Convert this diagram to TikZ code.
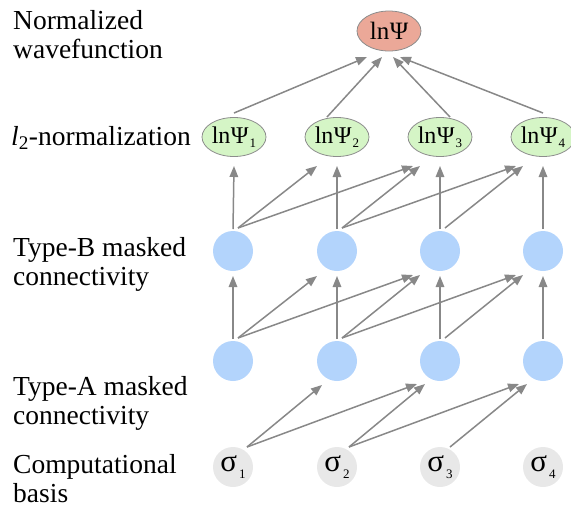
\documentclass[tikz,border=0pt]{standalone}
\usepackage{fontspec}
\setmainfont{Liberation Serif}
\usetikzlibrary{arrows.meta,shapes.geometric,calc}
\definecolor{arrgray}{HTML}{888888}
\definecolor{edgegray}{HTML}{8C8C8C}
\definecolor{psigreen}{HTML}{D5F5C6}
\definecolor{topred}{HTML}{EBA898}
\definecolor{hidblue}{HTML}{B3D4FC}
\definecolor{sigray}{HTML}{E8E8E8}
\newcommand{\psisub}[1]{ln\kern0.5pt Ψ\kern1pt\raisebox{-4pt}{\fontsize{13}{13}\selectfont #1}}
\newcommand{\sigsub}[1]{σ\kern2pt\raisebox{-7pt}{\fontsize{13}{13}\selectfont #1}}
\begin{document}
\begin{tikzpicture}[x=1pt,y=-1pt,
  arr/.style={draw=arrgray, line width=1.5pt, -{Triangle[length=11pt,width=8.5pt]}},
  lbl/.style={anchor=base west, inner sep=0pt, font=\fontsize{27.5}{29}\selectfont},
  topnode/.style={ellipse, draw=edgegray, line width=0.8pt, fill=topred, minimum width=64pt, minimum height=40pt, inner sep=0pt, font=\fontsize{25}{25}\selectfont},
  psinode/.style={ellipse, draw=edgegray, line width=0.8pt, fill=psigreen, minimum width=64pt, minimum height=39pt, inner sep=0pt, font=\fontsize{24}{24}\selectfont},
  hid/.style={circle, fill=hidblue, minimum size=40pt, inner sep=0pt},
  sig/.style={circle, fill=sigray, minimum size=40pt, inner sep=0pt, font=\fontsize{31}{31}\selectfont}
]
\useasboundingbox (0,0) rectangle (571,507);

% labels
\node[lbl] (l1) at (13,29) {\begin{tabular}[t]{@{}l@{}}Normalized\\wavefunction\end{tabular}};
\node[lbl] (l2) at (11,145) {\textit{l}\textsubscript{2}-normalization};
\node[lbl] (l3) at (13,256) {\begin{tabular}[t]{@{}l@{}}Type-B masked\\connectivity\end{tabular}};
\node[lbl] (l4) at (13,395) {\begin{tabular}[t]{@{}l@{}}Type-A masked\\connectivity\end{tabular}};
\node[lbl] (l5) at (13,473) {\begin{tabular}[t]{@{}l@{}}Computational\\basis\end{tabular}};

% nodes
\node[topnode] (T) at (389,31) {ln\kern0.5pt Ψ};
\node[psinode] (P1) at (234,137) {\psisub{1}};
\node[psinode] (P2) at (337,137) {\psisub{2}};
\node[psinode] (P3) at (440,137) {\psisub{3}};
\node[psinode] (P4) at (543,137) {\psisub{4}};
\foreach \i/\x in {1/233,2/337,3/440,4/543}{
  \node[hid] (B\i) at (\x,251) {};
  \node[hid] (A\i) at (\x,361) {};
  \node[sig] (S\i) at (\x,467) {\sigsub{\i}};
}

% psi -> top
\draw[arr] ($(P1)+(0,-24)$) -- ($(T)+(-22,26)$);
\draw[arr] ($(P2)+(-10,-20)$) -- ($(T)+(-7,26)$);
\draw[arr] ($(P3)+(10,-20)$) -- ($(T)+(4,26)$);
\draw[arr] ($(P4)+(0,-24)$) -- ($(T)+(11,26)$);

% B -> psi
\foreach \i in {1,...,4}{
  \draw[arr] ($(B\i)+(0,-22)$) -- ($(P\i)+(0,29)$);
}
\draw[arr] ($(B1)+(5,-23)$) -- ($(P2)+(-20,29)$);
\draw[arr] ($(B1)+(5,-23)$) -- ($(P3)+(-27,29)$);
\draw[arr] ($(B2)+(5,-23)$) -- ($(P3)+(-20,29)$);
\draw[arr] ($(B2)+(5,-23)$) -- ($(P4)+(-27,29)$);
\draw[arr] ($(B3)+(5,-23)$) -- ($(P4)+(-20,29)$);

% A -> B
\foreach \i in {1,...,4}{
  \draw[arr] ($(A\i)+(0,-22)$) -- ($(B\i)+(0,25)$);
}
\draw[arr] ($(A1)+(5,-23)$) -- ($(B2)+(-20,25)$);
\draw[arr] ($(A1)+(5,-23)$) -- ($(B3)+(-27,24)$);
\draw[arr] ($(A2)+(5,-23)$) -- ($(B3)+(-20,24)$);
\draw[arr] ($(A2)+(5,-23)$) -- ($(B4)+(-27,24)$);
\draw[arr] ($(A3)+(5,-23)$) -- ($(B4)+(-20,24)$);

% sigma -> A
\draw[arr] ($(S1)+(14,-20)$) -- ($(A2)+(-15,24)$);
\draw[arr] ($(S1)+(14,-20)$) -- ($(A3)+(-23,23)$);
\draw[arr] ($(S2)+(12,-20)$) -- ($(A3)+(-15,23)$);
\draw[arr] ($(S2)+(12,-20)$) -- ($(A4)+(-24,23)$);
\draw[arr] ($(S3)+(10,-20)$) -- ($(A4)+(-16,23)$);
\end{tikzpicture}
\end{document}
